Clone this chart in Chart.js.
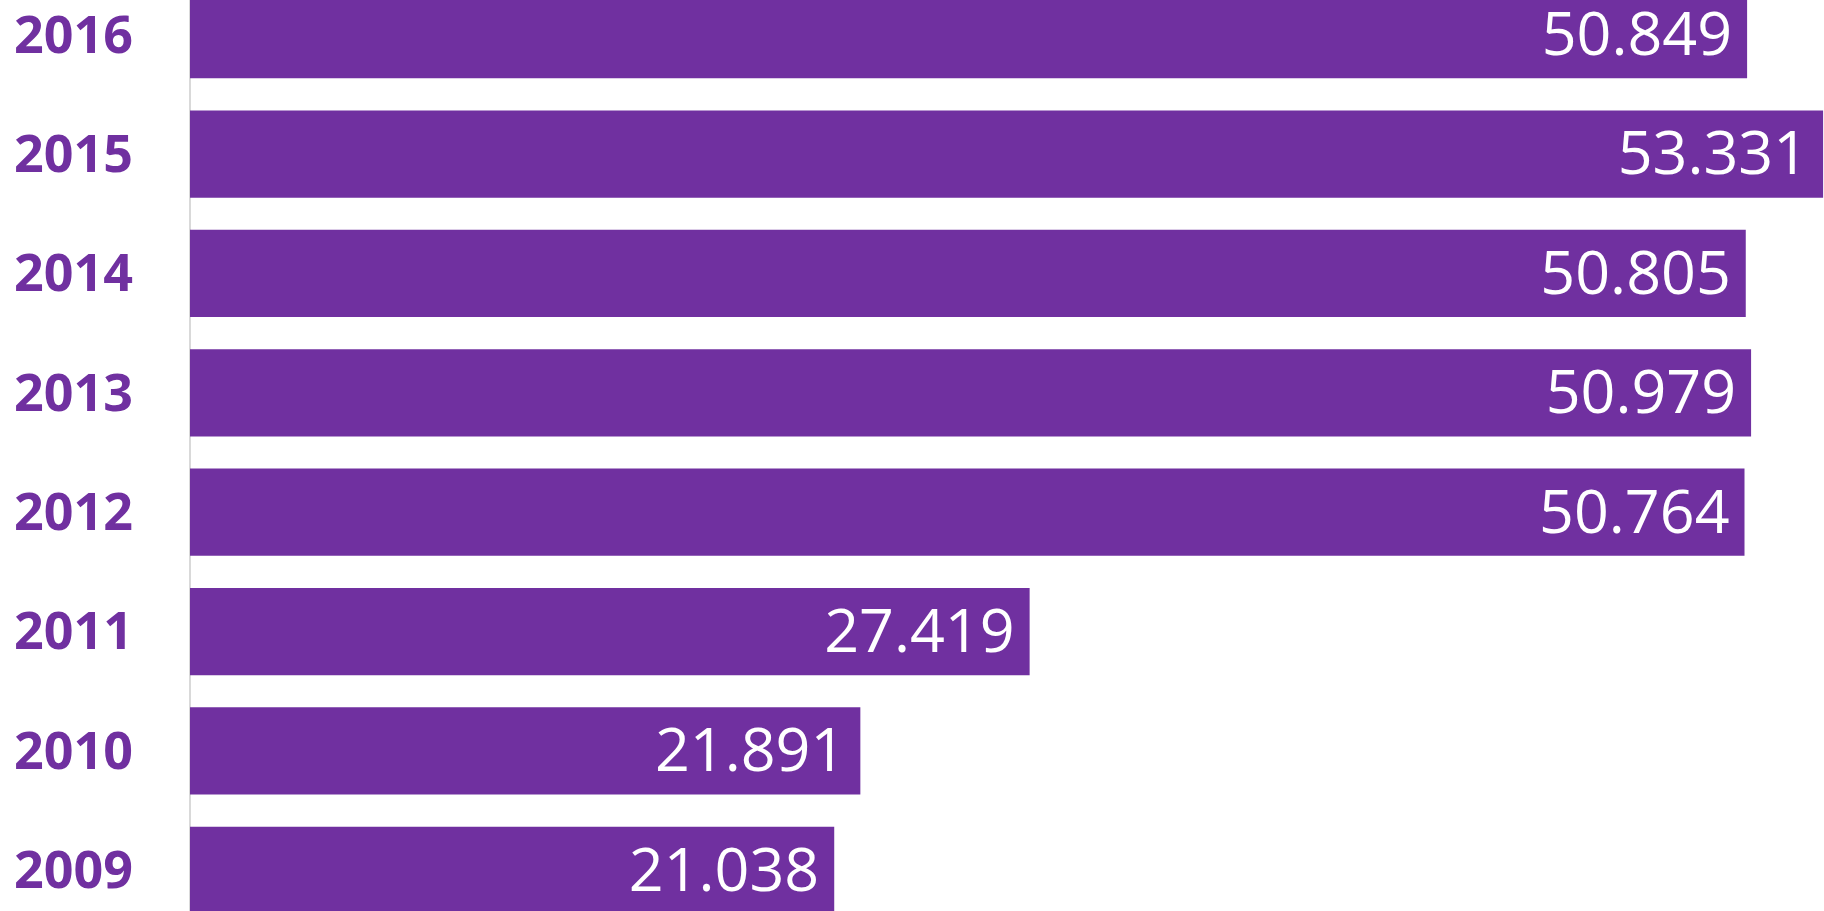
<!DOCTYPE html>
<html>
<head>
<meta charset="utf-8">
<script src="https://cdn.jsdelivr.net/npm/chart.js@4/dist/chart.umd.min.js"></script>
<style>
  html, body { margin: 0; padding: 0; background: #ffffff; overflow: hidden; width: 1824px; height: 911px; }
  #c { position: absolute; left: 0; top: -25px; width: 1824px; height: 955px; }
</style>
</head>
<body>
<canvas id="c" width="1824" height="955"></canvas>
<script>
const years = ["2016", "2015", "2014", "2013", "2012", "2011", "2010", "2009"];
const values = [50.849, 53.331, 50.805, 50.979, 50.764, 27.419, 21.891, 21.038];
const valueLabels = ["50.849", "53.331", "50.805", "50.979", "50.764", "27.419", "21.891", "21.038"];

const PURPLE = "#7030A0";

const labelPlugin = {
  id: "barValueLabels",
  afterDatasetsDraw(chart) {
    const ctx = chart.ctx;
    const meta = chart.getDatasetMeta(0);
    ctx.save();
    ctx.font = "61px 'Open Sans'";
    ctx.fillStyle = "#ffffff";
    ctx.textAlign = "right";
    ctx.textBaseline = "middle";
    meta.data.forEach((bar, i) => {
      ctx.fillText(valueLabels[i], bar.x - 15, bar.y + 3);
    });
    ctx.restore();
  }
};

new Chart(document.getElementById("c"), {
  type: "bar",
  data: {
    labels: years,
    datasets: [{
      data: values,
      backgroundColor: PURPLE,
      borderWidth: 0,
      barPercentage: 0.73,
      categoryPercentage: 1.0
    }]
  },
  options: {
    indexAxis: "y",
    responsive: false,
    maintainAspectRatio: false,
    devicePixelRatio: 1,
    animation: false,
    layout: { padding: 0 },
    plugins: {
      legend: { display: false },
      tooltip: { enabled: false },
      title: { display: false }
    },
    scales: {
      x: {
        display: false,
        min: 0,
        max: 53.36
      },
      y: {
        position: "left",
        grid: { display: false, drawTicks: false },
        border: { display: true, color: "#d9d9d9", width: 2 },
        ticks: {
          padding: 57,
          labelOffset: 3,
          color: PURPLE,
          font: { family: "'Open Sans'", size: 52, weight: "bold" }
        },
        afterFit(scale) {
          scale.width = 190;
          scale.paddingTop = 0;
          scale.paddingBottom = 0;
        }
      }
    }
  },
  plugins: [labelPlugin]
});
</script>
</body>
</html>
